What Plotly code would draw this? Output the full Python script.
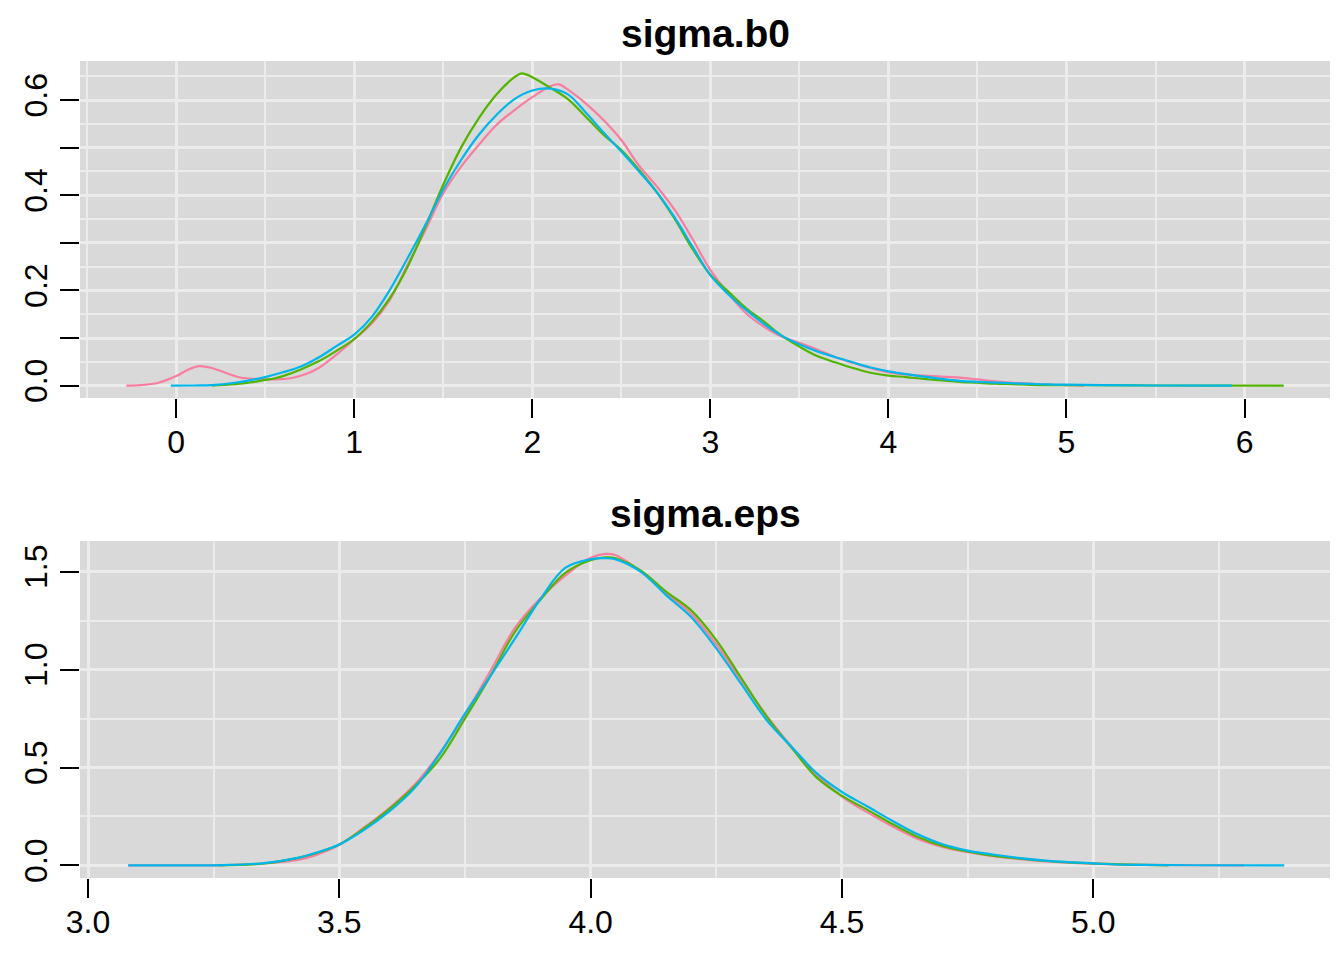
import plotly.graph_objects as go

# ---------------- data ----------------
chain_names = ["chain 1", "chain 2", "chain 3"]
chain_colors = ["#F87EA0", "#53B400", "#00B6EB"]

# sigma.b0 densities
b0_x_c1 = [-0.28, -0.2, -0.1, 0.0, 0.07, 0.13, 0.2, 0.27, 0.36, 0.44, 0.55, 0.65, 0.74, 0.8, 0.9,
           1.0, 1.1, 1.2, 1.3, 1.4, 1.5, 1.6, 1.7, 1.8, 1.9, 2.0, 2.1, 2.15, 2.2, 2.3, 2.4, 2.5,
           2.6, 2.7, 2.8, 2.9, 3.0, 3.1, 3.2, 3.3, 3.4, 3.5, 3.6, 3.7, 3.8, 3.9, 4.0, 4.1, 4.2,
           4.3, 4.4, 4.5, 4.6, 4.7, 4.8, 4.9, 5.0, 5.1]
b0_y_c1 = [0.0, 0.001, 0.006, 0.020, 0.034, 0.041, 0.037, 0.028, 0.017, 0.014, 0.013, 0.016, 0.026,
           0.037, 0.065, 0.097, 0.131, 0.180, 0.254, 0.327, 0.404, 0.460, 0.506, 0.548, 0.579,
           0.606, 0.629, 0.633, 0.622, 0.593, 0.558, 0.516, 0.462, 0.418, 0.369, 0.308, 0.243,
           0.194, 0.152, 0.124, 0.103, 0.090, 0.076, 0.060, 0.048, 0.037, 0.028, 0.023, 0.021,
           0.019, 0.017, 0.013, 0.009, 0.006, 0.004, 0.002, 0.001, 0.0]

b0_x_c2 = [0.2, 0.33, 0.44, 0.5, 0.55, 0.6, 0.7, 0.8, 0.9, 1.0, 1.1, 1.2, 1.3, 1.4, 1.5, 1.6, 1.7,
           1.8, 1.9, 1.94, 2.0, 2.1, 2.2, 2.3, 2.4, 2.5, 2.6, 2.7, 2.8, 2.9, 3.0, 3.1, 3.2, 3.3,
           3.4, 3.5, 3.6, 3.7, 3.8, 3.9, 4.0, 4.1, 4.2, 4.3, 4.4, 4.5, 4.6, 4.7, 4.8, 4.9, 5.0,
           5.5, 6.22]
b0_y_c2 = [0.0, 0.003, 0.008, 0.012, 0.015, 0.020, 0.034, 0.051, 0.073, 0.098, 0.135, 0.184,
           0.250, 0.334, 0.422, 0.500, 0.562, 0.612, 0.648, 0.656, 0.648, 0.626, 0.602, 0.565,
           0.527, 0.495, 0.453, 0.406, 0.350, 0.287, 0.233, 0.198, 0.163, 0.135, 0.105, 0.082,
           0.062, 0.049, 0.037, 0.027, 0.021, 0.018, 0.014, 0.011, 0.008, 0.006, 0.004, 0.003,
           0.0015, 0.001, 0.001, 0.0003, 0.0]

b0_x_c3 = [-0.03, 0.1, 0.2, 0.33, 0.44, 0.5, 0.6, 0.7, 0.8, 0.9, 1.0, 1.1, 1.2, 1.3, 1.4, 1.5,
           1.6, 1.7, 1.8, 1.9, 2.0, 2.1, 2.2, 2.3, 2.4, 2.5, 2.6, 2.7, 2.8, 2.9, 3.0, 3.1, 3.2,
           3.3, 3.4, 3.5, 3.6, 3.7, 3.8, 3.9, 4.0, 4.1, 4.2, 4.3, 4.4, 4.5, 4.6, 4.7, 4.8, 4.9,
           5.0, 5.2, 5.5, 5.93]
b0_y_c3 = [0.0, 0.0003, 0.001, 0.006, 0.013, 0.018, 0.028, 0.040, 0.059, 0.083, 0.107, 0.145,
           0.201, 0.268, 0.338, 0.412, 0.474, 0.527, 0.569, 0.602, 0.620, 0.624, 0.612, 0.574,
           0.532, 0.492, 0.450, 0.406, 0.353, 0.292, 0.232, 0.192, 0.159, 0.130, 0.105, 0.087,
           0.072, 0.060, 0.049, 0.038, 0.030, 0.024, 0.019, 0.014, 0.010, 0.008, 0.0065, 0.005,
           0.0035, 0.0025, 0.002, 0.001, 0.0003, 0.0]

# sigma.eps densities
eps_x_c1 = [3.08, 3.2, 3.27, 3.35, 3.42, 3.45, 3.5, 3.55, 3.6, 3.65, 3.7, 3.75, 3.8, 3.85, 3.9,
            3.95, 4.0, 4.03, 4.05, 4.1, 4.15, 4.2, 4.25, 4.3, 4.35, 4.4, 4.45, 4.5, 4.55, 4.6,
            4.65, 4.7, 4.75, 4.8, 4.85, 4.9, 4.95, 5.0, 5.05, 5.1, 5.2, 5.3]
eps_y_c1 = [0.0, 0.0005, 0.002, 0.010, 0.030, 0.050, 0.105, 0.195, 0.294, 0.413, 0.574, 0.770,
            0.990, 1.215, 1.364, 1.480, 1.570, 1.590, 1.583, 1.500, 1.390, 1.285, 1.128, 0.945,
            0.765, 0.605, 0.463, 0.352, 0.272, 0.200, 0.137, 0.095, 0.068, 0.048, 0.034, 0.022,
            0.014, 0.009, 0.005, 0.003, 0.001, 0.0]

eps_x_c2 = [3.26, 3.35, 3.42, 3.45, 3.5, 3.55, 3.6, 3.65, 3.7, 3.75, 3.8, 3.85, 3.9, 3.95, 4.0,
            4.03, 4.05, 4.1, 4.15, 4.2, 4.25, 4.3, 4.35, 4.4, 4.45, 4.5, 4.55, 4.6, 4.65, 4.7,
            4.75, 4.8, 4.85, 4.9, 4.95, 5.0, 5.05, 5.1, 5.15]
eps_y_c2 = [0.0, 0.010, 0.040, 0.060, 0.107, 0.190, 0.289, 0.404, 0.545, 0.750, 0.965, 1.195,
            1.356, 1.495, 1.558, 1.572, 1.568, 1.505, 1.398, 1.302, 1.150, 0.955, 0.760, 0.600,
            0.448, 0.355, 0.285, 0.212, 0.147, 0.100, 0.072, 0.050, 0.036, 0.024, 0.016, 0.010,
            0.006, 0.003, 0.0]

eps_x_c3 = [3.08, 3.2, 3.27, 3.35, 3.42, 3.45, 3.5, 3.55, 3.6, 3.65, 3.7, 3.75, 3.8, 3.85, 3.9,
            3.95, 4.0, 4.03, 4.05, 4.1, 4.15, 4.2, 4.25, 4.3, 4.35, 4.4, 4.45, 4.5, 4.55, 4.6,
            4.65, 4.7, 4.75, 4.8, 4.85, 4.9, 4.95, 5.0, 5.05, 5.1, 5.2, 5.38]
eps_y_c3 = [0.0, 0.0005, 0.002, 0.012, 0.040, 0.062, 0.107, 0.183, 0.277, 0.396, 0.570, 0.775,
            0.965, 1.160, 1.360, 1.520, 1.563, 1.568, 1.562, 1.498, 1.380, 1.268, 1.108, 0.925,
            0.742, 0.605, 0.470, 0.375, 0.302, 0.228, 0.160, 0.108, 0.076, 0.056, 0.039, 0.026,
            0.017, 0.011, 0.005, 0.003, 0.001, 0.0]

panel_titles = ["sigma.b0", "sigma.eps"]

b0_xticks = [0, 1, 2, 3, 4, 5, 6]
b0_yticks = [0.0, 0.1, 0.2, 0.3, 0.4, 0.5, 0.6]
b0_ylabels = ["0.0", "", "0.2", "", "0.4", "", "0.6"]
eps_xticks = [3.0, 3.5, 4.0, 4.5, 5.0]
eps_xlabels = ["3.0", "3.5", "4.0", "4.5", "5.0"]
eps_yticks = [0.0, 0.5, 1.0, 1.5]
eps_ylabels = ["0.0", "0.5", "1.0", "1.5"]

# ---------------- figure ----------------
W, H = 1344, 960
FONT = "Liberation Sans, Arial, sans-serif"
BG = "#D9D9D9"
GRID = "#EBEBEB"

fig = go.Figure()

b0 = [(b0_x_c1, b0_y_c1), (b0_x_c2, b0_y_c2), (b0_x_c3, b0_y_c3)]
eps = [(eps_x_c1, eps_y_c1), (eps_x_c2, eps_y_c2), (eps_x_c3, eps_y_c3)]
for i, (xs, ys) in enumerate(b0):
    fig.add_trace(go.Scatter(x=xs, y=ys, mode="lines", name=chain_names[i],
                             line=dict(color=chain_colors[i], width=2.2, shape="spline", smoothing=1.0),
                             xaxis="x", yaxis="y", showlegend=False))
for i, (xs, ys) in enumerate(eps):
    fig.add_trace(go.Scatter(x=xs, y=ys, mode="lines", name=chain_names[i],
                             line=dict(color=chain_colors[i], width=2.2, shape="spline", smoothing=1.0),
                             xaxis="x2", yaxis="y2", showlegend=False))

xdom = [80 / W, 1330 / W]
top_dom = [1 - 398 / H, 1 - 61 / H]
bot_dom = [1 - 878 / H, 1 - 541 / H]

common = dict(ticks="outside", ticklen=19, tickwidth=2, tickcolor="black",
              showline=False, zeroline=False, showgrid=True, gridcolor=GRID, gridwidth=3,
              tickfont=dict(family=FONT, size=32, color="black"), tickmode="array",
              automargin=False)


def minor(vals):
    return dict(tickmode="array", tickvals=vals, showgrid=True, gridcolor=GRID,
                gridwidth=2, ticks="")


fig.update_layout(
    width=W, height=H, margin=dict(l=0, r=0, t=0, b=0),
    paper_bgcolor="white", plot_bgcolor=BG, showlegend=False,
    xaxis=dict(domain=xdom, range=[-0.54, 6.48], anchor="y",
               tickvals=b0_xticks, ticktext=[str(v) for v in b0_xticks], ticklabelstandoff=-3,
               minor=minor([-0.5, 0.5, 1.5, 2.5, 3.5, 4.5, 5.5]), **common),
    yaxis=dict(domain=top_dom, range=[-0.026, 0.682], anchor="x",
               tickvals=b0_yticks, ticktext=b0_ylabels, tickangle=-90,
               minor=minor([0.05, 0.15, 0.25, 0.35, 0.45, 0.55, 0.65]), **common),
    xaxis2=dict(domain=xdom, range=[2.984, 5.471], anchor="y2",
                tickvals=eps_xticks, ticktext=eps_xlabels, ticklabelstandoff=-3,
                minor=minor([3.25, 3.75, 4.25, 4.75, 5.25]), **common),
    yaxis2=dict(domain=bot_dom, range=[-0.064, 1.656], anchor="x2",
                tickvals=eps_yticks, ticktext=eps_ylabels, tickangle=-90,
                minor=minor([0.25, 0.75, 1.25]), **common),
)

for title, ypix in zip(panel_titles, [33, 513]):
    fig.add_annotation(text="<b>" + title + "</b>", x=705 / W, y=1 - ypix / H,
                       xref="paper", yref="paper", xanchor="center", yanchor="middle",
                       showarrow=False, font=dict(family=FONT, size=39, color="black"))

fig.write_html("out.html")
